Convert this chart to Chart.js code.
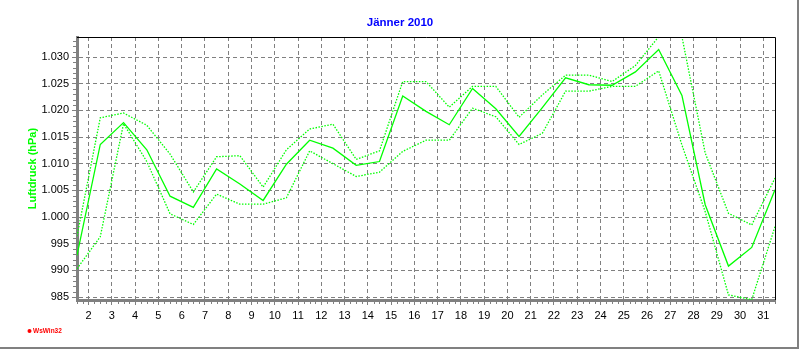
<!DOCTYPE html>
<html>
<head>
<meta charset="utf-8">
<title>Jänner 2010</title>
<script src="https://cdn.jsdelivr.net/npm/chart.js@4.4.0/dist/chart.umd.min.js"></script>
<style>
    html, body { margin: 0; padding: 0; background: #fff; }
</style>
</head>
<body>
<canvas id="ourChart" width="800" height="350"></canvas>
<script>
const chartTitle = 'Jänner 2010';
const axisTitle = 'Luftdruck (hPa)';

// Tage im Jänner, Messwert jeweils zur Tagesmitte
const days = [1, 2, 3, 4, 5, 6, 7, 8, 9, 10, 11, 12, 13, 14, 15, 16,
              17, 18, 19, 20, 21, 22, 23, 24, 25, 26, 27, 28, 29, 30, 31];

// Tagesmittel (hPa)
const luftdruckMittel = [992.8, 1013.6, 1017.7, 1012.6, 1003.9, 1001.8, 1009.0, 1006.2,
                         1003.1, 1009.9, 1014.4, 1012.9, 1009.7, 1010.4, 1022.7, 1019.8,
                         1017.3, 1024.1, 1020.3, 1015.1, 1020.5, 1026.1, 1024.8, 1024.7,
                         1027.2, 1031.4, 1022.8, 1002.3, 990.8, 994.3, 1005.1];

// Tagesmaximum (hPa)
const luftdruckMax = [996.4, 1018.6, 1019.5, 1017.2, 1011.8, 1004.7, 1011.3, 1011.5,
                      1005.6, 1012.6, 1016.5, 1017.4, 1010.8, 1012.4, 1025.4, 1025.4,
                      1020.6, 1024.5, 1024.5, 1018.7, 1022.9, 1026.6, 1026.6, 1025.4,
                      1028.4, 1033.8, 1033.8, 1012.0, 1000.7, 998.5, 1007.3];

// Tagesminimum (hPa)
const luftdruckMin = [990.3, 996.3, 1017.5, 1010.4, 1000.6, 998.6, 1004.3, 1002.4,
                      1002.4, 1003.6, 1012.4, 1010.0, 1007.6, 1008.4, 1012.3, 1014.4,
                      1014.4, 1020.4, 1018.8, 1013.6, 1015.7, 1023.6, 1023.6, 1024.5,
                      1024.5, 1027.4, 1013.5, 1001.0, 985.4, 984.5, 998.2];

const xTicks = [2, 3, 4, 5, 6, 7, 8, 9, 10, 11, 12, 13, 14, 15, 16, 17,
                18, 19, 20, 21, 22, 23, 24, 25, 26, 27, 28, 29, 30, 31];
const yTicks = [985, 990, 995, 1000, 1005, 1010, 1015, 1020, 1025, 1030];

function toPoints(values) {
    return values.map((v, i) => ({x: days[i] + 0.5, y: v}));
}

function formatHpa(v) {
    if (v < 1000) return String(v);
    return '1.' + String(v - 1000).padStart(3, '0');
}

// Rahmen, Zwischenstriche, Titel und Logo
const decorations = {
    id: 'decorations',
    afterDraw(chart) {
        const ctx = chart.ctx;
        const area = chart.chartArea;
        const xs = chart.scales.x;
        const ys = chart.scales.y;
        ctx.save();

        ctx.strokeStyle = '#808080';
        ctx.lineWidth = 1;
        ctx.beginPath();
        for (let v = xs.min; v <= xs.max + 0.001; v += 0.25) {
            if (Math.abs(v - Math.round(v)) < 0.001) continue;
            const px = Math.round(xs.getPixelForValue(v)) + 0.5;
            ctx.moveTo(px, area.bottom + 1);
            ctx.lineTo(px, area.bottom + 4);
        }
        for (let v = Math.ceil(ys.min); v <= ys.max; v++) {
            if (v % 5 === 0) continue;
            const py = Math.round(ys.getPixelForValue(v)) + 0.5;
            ctx.moveTo(area.left - 1, py);
            ctx.lineTo(area.left - 4, py);
        }
        ctx.stroke();

        ctx.strokeStyle = '#000';
        ctx.beginPath();
        ctx.moveTo(area.left, Math.round(area.top) + 0.5);
        ctx.lineTo(Math.round(area.right) + 0.5, Math.round(area.top) + 0.5);
        ctx.lineTo(Math.round(area.right) + 0.5, area.bottom);
        ctx.stroke();

        ctx.fillStyle = '#808080';
        ctx.fillRect(chart.width - 3, 0, 2, chart.height - 1);
        ctx.fillRect(0, chart.height - 3, chart.width - 1, 2);

        ctx.fillStyle = '#0000ff';
        ctx.font = 'bold 11.5px Arial, "Liberation Sans", sans-serif';
        ctx.textAlign = 'center';
        ctx.textBaseline = 'middle';
        ctx.fillText(chartTitle, chart.width / 2, 23);

        ctx.fillStyle = '#ff0000';
        ctx.beginPath();
        ctx.arc(29.5, 331, 2, 0, Math.PI * 2);
        ctx.fill();
        ctx.font = 'bold 6.5px Arial, "Liberation Sans", sans-serif';
        ctx.textAlign = 'left';
        ctx.fillText('WsWin32', 33, 331.5);

        ctx.restore();
    }
};

let ourCanvas = document.getElementById('ourChart');

const chartElement = new Chart(ourCanvas, {
    type: 'line',
    data: {
        datasets: [
            {
                label: 'Maximum',
                data: toPoints(luftdruckMax),
                borderColor: '#00ff00',
                borderWidth: 1.3,
                borderDash: [1.5, 1.5],
                pointRadius: 0,
                tension: 0
            },
            {
                label: 'Minimum',
                data: toPoints(luftdruckMin),
                borderColor: '#00ff00',
                borderWidth: 1.3,
                borderDash: [1.5, 1.5],
                pointRadius: 0,
                tension: 0
            },
            {
                label: 'Mittel',
                data: toPoints(luftdruckMittel),
                borderColor: '#00ff00',
                borderWidth: 1.3,
                pointRadius: 0,
                tension: 0
            }
        ]
    },
    options: {
        responsive: false,
        animation: false,
        layout: {
            padding: {left: 0, right: 25, top: 37, bottom: 0}
        },
        plugins: {
            legend: {display: false},
            tooltip: {enabled: false},
            title: {display: false}
        },
        scales: {
            x: {
                type: 'linear',
                min: 1.5,
                max: 31.5,
                afterBuildTicks: scale => { scale.ticks = xTicks.map(v => ({value: v})); },
                afterFit: scale => { scale.height = 50; },
                grid: {color: '#808080', tickColor: '#808080', tickLength: 5},
                border: {color: '#808080', width: 3, dash: [4, 3]},
                ticks: {
                    color: '#000',
                    padding: 4,
                    maxRotation: 0,
                    autoSkip: false,
                    font: {family: 'Arial, "Liberation Sans", sans-serif', size: 11},
                    callback: v => String(v)
                }
            },
            y: {
                min: 984.44,
                max: 1033.75,
                afterBuildTicks: scale => { scale.ticks = yTicks.map(v => ({value: v})); },
                afterFit: scale => { scale.width = 77; },
                grid: {color: '#808080', tickColor: '#808080', tickLength: 5},
                border: {color: '#808080', width: 3, dash: [4, 3]},
                ticks: {
                    color: '#000',
                    padding: 3,
                    autoSkip: false,
                    font: {family: 'Arial, "Liberation Sans", sans-serif', size: 11},
                    callback: v => formatHpa(v)
                },
                title: {
                    display: true,
                    text: axisTitle,
                    color: '#00ff00',
                    font: {family: 'Arial, "Liberation Sans", sans-serif', size: 11, weight: 'bold'},
                    padding: {top: 26, bottom: 0}
                }
            }
        }
    },
    plugins: [decorations]
});
</script>
</body>
</html>
